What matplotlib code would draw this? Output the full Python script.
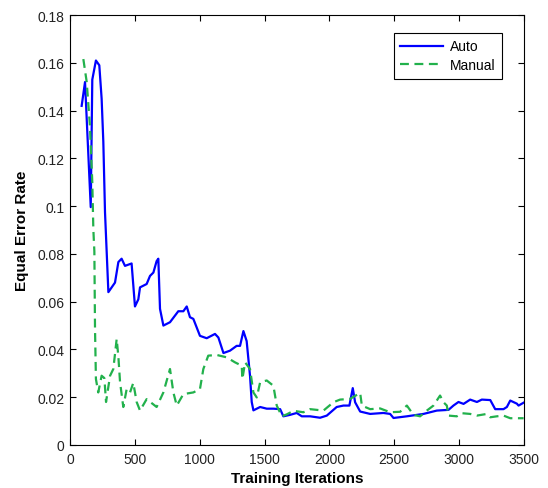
import numpy as np
import matplotlib.pyplot as plt
from matplotlib.ticker import FormatStrFormatter, MultipleLocator

plt.rcParams['font.family'] = ['Liberation Sans', 'DejaVu Sans']

auto_x = [90, 116, 160, 172, 200, 226, 244, 257, 270, 296, 347, 373, 398, 424, 475,
          501, 527, 540, 591, 617, 643, 668, 681, 694, 720, 771, 835, 874, 900, 925,
          951, 1002, 1054, 1118, 1144, 1183, 1234, 1285, 1311, 1337, 1362, 1388, 1401,
          1414, 1466, 1517, 1568, 1620, 1645, 1696, 1748, 1787, 1851, 1928, 1980, 2056,
          2108, 2154, 2180, 2198, 2237, 2314, 2416, 2468, 2494, 2597, 2725, 2828, 2918,
          2956, 2995, 3034, 3085, 3137, 3175, 3240, 3278, 3342, 3368, 3394, 3445, 3458,
          3497]
auto_y = [0.142, 0.152, 0.0996, 0.153, 0.161, 0.159, 0.145, 0.127, 0.0975, 0.064,
          0.068, 0.0766, 0.078, 0.075, 0.076, 0.058, 0.061, 0.066, 0.0674, 0.0708,
          0.0722, 0.077, 0.078, 0.057, 0.050, 0.0514, 0.056, 0.056, 0.058, 0.0535,
          0.0528, 0.0457, 0.0447, 0.0465, 0.045, 0.0385, 0.0395, 0.0415, 0.0415,
          0.0477, 0.0435, 0.0289, 0.018, 0.0145, 0.0159, 0.0152, 0.0152, 0.015, 0.012,
          0.0126, 0.0134, 0.012, 0.012, 0.0114, 0.0123, 0.0159, 0.0165, 0.0165, 0.0238,
          0.0179, 0.014, 0.013, 0.0134, 0.013, 0.0113, 0.012, 0.013, 0.0144, 0.0147,
          0.0165, 0.018, 0.0172, 0.019, 0.018, 0.019, 0.0188, 0.015, 0.015, 0.0159,
          0.0186, 0.0173, 0.0165, 0.0177]

manual_x = [103, 129, 154, 172, 180, 188, 193, 200, 218, 244, 265, 278, 309, 334, 360,
            373, 386, 411, 437, 463, 488, 514, 540, 591, 668, 720, 771, 797, 823, 874,
            951, 1002, 1028, 1066, 1131, 1208, 1272, 1324, 1329, 1350, 1388, 1414, 1440,
            1466, 1517, 1568, 1594, 1633, 1671, 1723, 1799, 1851, 1954, 2031, 2082, 2159,
            2237, 2250, 2314, 2391, 2468, 2545, 2597, 2648, 2699, 2751, 2802, 2853, 2879,
            2905, 2918, 2982, 3021, 3085, 3137, 3214, 3240, 3291, 3342, 3394, 3497]
manual_y = [0.1616, 0.152, 0.1335, 0.110, 0.0904, 0.081, 0.0486, 0.0276, 0.022, 0.029,
            0.028, 0.018, 0.029, 0.0318, 0.0444, 0.037, 0.0263, 0.0159, 0.0234, 0.022,
            0.026, 0.018, 0.0144, 0.0192, 0.0159, 0.022, 0.0318, 0.022, 0.0165, 0.0213,
            0.022, 0.0234, 0.0318, 0.0374, 0.0377, 0.0367, 0.0346, 0.0332, 0.0276,
            0.0346, 0.0318, 0.022, 0.0199, 0.0263, 0.027, 0.0248, 0.0165, 0.012, 0.0128,
            0.0143, 0.0137, 0.015, 0.0144, 0.0179, 0.019, 0.0193, 0.0218, 0.0165, 0.015,
            0.0153, 0.0137, 0.0139, 0.0165, 0.0126, 0.012, 0.0144, 0.0165, 0.0207,
            0.0179, 0.0165, 0.0123, 0.012, 0.0133, 0.013, 0.0123, 0.013, 0.0116, 0.012,
            0.0123, 0.0112, 0.0112]

fig = plt.figure(figsize=(5.48, 4.89), dpi=100)
ax = fig.add_axes([0.1277, 0.088, 0.8285, 0.879])

ax.plot(auto_x, auto_y, color='#0000ff', lw=1.6, label='Auto')
ax.plot(manual_x, manual_y, color='#22b14c', lw=1.6, ls=(0, (4, 2.5)), label='Manual')

ax.set_xlim(0, 3500)
ax.set_ylim(0, 0.18)
ax.xaxis.set_major_locator(MultipleLocator(500))
ax.yaxis.set_major_locator(MultipleLocator(0.02))
ax.yaxis.set_major_formatter(FormatStrFormatter('%g'))
ax.tick_params(direction='in', top=True, right=True, length=4, labelsize=10,
               width=0.8, labelcolor='#222222')
ax.tick_params(axis='x', pad=5)
ax.tick_params(axis='y', pad=4)
for s in ax.spines.values():
    s.set_linewidth(0.8)

ax.set_xlabel('Training Iterations', fontsize=11, fontweight='bold', labelpad=4)
ax.set_ylabel('Equal Error Rate', fontsize=11, fontweight='bold', labelpad=6)

leg = ax.legend(loc='upper right', bbox_to_anchor=(0.952, 0.958), borderaxespad=0,
                fontsize=10, fancybox=False, framealpha=1, edgecolor='black',
                handlelength=3.1, handletextpad=0.5, borderpad=0.45, labelspacing=0.35)
leg.get_frame().set_linewidth(0.8)

fig.savefig('out.png', dpi=100)
